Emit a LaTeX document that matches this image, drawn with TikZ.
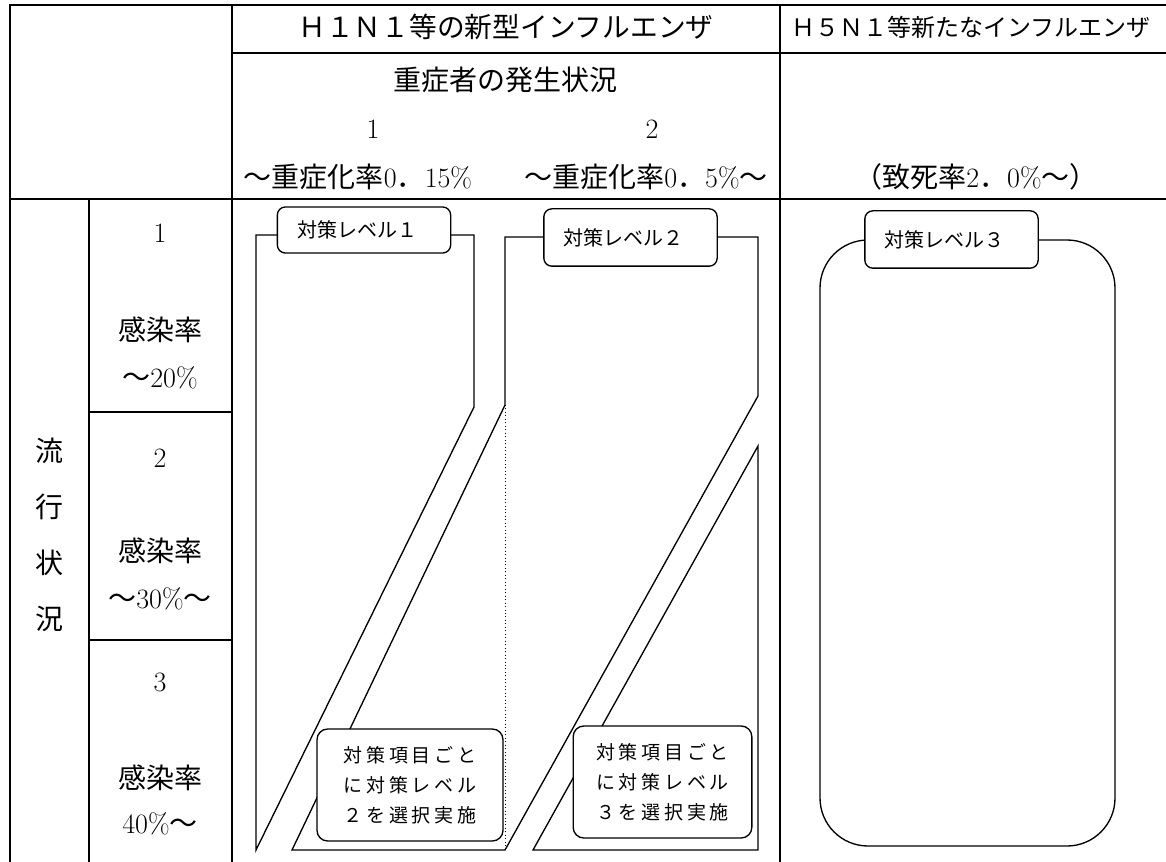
\documentclass[tikz,border=0pt]{standalone}
\usepackage{fontspec}
\usepackage{tikz}
\newfontfamily\jp{Noto Sans CJK JP}
\newfontfamily\jpwide[LetterSpace=20]{Noto Sans CJK JP}

\tikzset{
    grid line/.style={line width=1.5pt},
    band/.style={line width=1pt, line join=miter},
    headtext/.style={inner sep=0pt, font=\fontsize{20.8}{25}\selectfont\jp},
    celltext/.style={inner sep=0pt, font=\fontsize{21}{25}\selectfont\jp},
    levelbox/.style={draw, fill=white, line width=1pt, rounded corners=6pt, align=left,
        text width=100pt, inner xsep=15pt, font=\fontsize{15}{18}\selectfont\jp},
    notebox/.style={draw, fill=white, line width=1pt, rounded corners=8pt, align=center,
        minimum height=84pt, font=\fontsize{14.25}{22.5}\selectfont\jpwide},
}

\begin{document}
\begin{tikzpicture}[x=0.75pt, y=-0.75pt]
    \useasboundingbox (0,0) rectangle (1166,862);

    % Table rules
    \draw[grid line] (1166,5) -- (10,5) -- (10,862);
    \draw[grid line] (232,53) -- (1166,53);
    \draw[grid line] (10,199) -- (1166,199);
    \draw[grid line] (232,5) -- (232,862);
    \draw[grid line] (780,5) -- (780,862);
    \draw[grid line] (89,199) -- (89,862);
    \draw[grid line] (89,412) -- (232,412);
    \draw[grid line] (89,640) -- (232,640);

    % Header texts
    \node[headtext] (hnew) at (506,27) {Ｈ１Ｎ１等の新型インフルエンザ};
    \node[headtext, font=\fontsize{18}{22}\selectfont\jp] (hfive) at (971,27) {Ｈ５Ｎ１等新たなインフルエンザ};
    \node[celltext] (severe) at (505,80) {重症者の発生状況};
    \node[celltext, font=\fontsize{21}{25}\selectfont] (sev1) at (373,129) {1};
    \node[celltext, font=\fontsize{21}{25}\selectfont] (sev2) at (652,129) {2};
    \node[celltext] (rate1) at (358,177) {～重症化率{\rmfamily 0}．{\rmfamily 15\%}};
    \node[celltext] (rate2) at (646,177) {～重症化率{\rmfamily 0}．{\rmfamily 5\%}～};
    \node[celltext] (rate3) at (976,177) {（致死率{\rmfamily 2}．{\rmfamily 0\%}～）};

    % Left columns
    \node[celltext, align=center, font=\fontsize{21}{42}\selectfont\jp] (spread) at (49,535) {流\\行\\状\\況};
    \node[celltext, font=\fontsize{21}{25}\selectfont] (inf1) at (160,233) {1};
    \node[celltext] (inftx1) at (160,330) {感染率};
    \node[celltext] (infrt1) at (160,378) {～{\rmfamily 20\%}};
    \node[celltext, font=\fontsize{21}{25}\selectfont] (inf2) at (160,458) {2};
    \node[celltext] (inftx2) at (160,551) {感染率};
    \node[celltext] (infrt2) at (160,599) {～{\rmfamily 30\%}～};
    \node[celltext, font=\fontsize{21}{25}\selectfont] (inf3) at (160,682) {3};
    \node[celltext] (inftx3) at (160,778) {感染率};
    \node[celltext] (infrt3) at (160,824) {{\rmfamily 40\%}～};

    % Level bands
    \draw[band] (256,235) -- (256,850) -- (474,407) -- (474,235) -- cycle;
    \draw[band] (505,237) -- (505,405) -- (292,850) -- (505,850) -- (758,396) -- (758,237) -- cycle;
    \draw[band] (533,850) -- (758,446) -- (758,850) -- cycle;
    \draw[dotted, line width=0.6pt] (505,405) -- (505,850);
    \draw[band, rounded corners=36pt] (820,240) rectangle (1115,846);

    % Level boxes
    \node[levelbox, minimum height=34.5pt] (lvl1) at (364,230) {対策レベル１};
    \node[levelbox, minimum height=43pt] (lvl2) at (630.5,237.5) {対策レベル２};
    \node[levelbox, minimum height=43pt] (lvl3) at (951.5,239.5) {対策レベル３};

    % Notes at the bottom
    \node[notebox, minimum width=139.5pt] (noteA) at (410,785) {対策項目ごと\\に対策レベル\\２を選択実施};
    \node[notebox, minimum width=134pt] (noteB) at (662.5,782) {対策項目ごと\\に対策レベル\\３を選択実施};
\end{tikzpicture}
\end{document}
